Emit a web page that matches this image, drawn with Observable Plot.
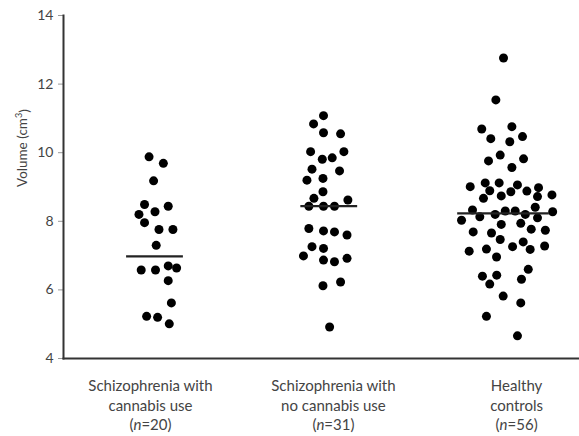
<!DOCTYPE html>
<html>
<head>
<meta charset="utf-8">
<script src="https://cdn.jsdelivr.net/npm/d3@7"></script>
<script src="https://cdn.jsdelivr.net/npm/@observablehq/plot@0.6"></script>
<style>
  html, body { margin: 0; padding: 0; background: #fff; }
  #chart svg { display: block; }
</style>
</head>
<body>
<div id="chart"></div>
<script>
// ---- Data ----
const groupLine1 = ["Schizophrenia with", "Schizophrenia with", "Healthy"];
const groupLine2 = ["cannabis use", "no cannabis use", "controls"];
const groupN = [20, 31, 56];
const groupMeans = [6.98, 8.44, 8.23];

// Schizophrenia with cannabis use (n=20)
const volCannabis = [9.88, 9.69, 9.18, 8.49, 8.44, 8.20, 8.28, 7.96, 7.76, 7.76,
  7.30, 6.58, 6.58, 6.70, 6.64, 6.27, 5.62, 5.23, 5.20, 5.01];
const jitCannabis = [-0.034, 0.048, -0.008, -0.060, 0.076, -0.092, 0.000, -0.060, 0.023, 0.103,
  0.007, -0.079, 0.003, 0.076, 0.124, 0.076, 0.094, -0.048, 0.015, 0.082];

// Schizophrenia with no cannabis use (n=31)
const volNoCannabis = [11.08, 10.84, 10.58, 10.55, 10.03, 9.81, 9.85, 10.03, 9.52, 9.47,
  9.20, 9.25, 8.86, 8.67, 8.62, 8.44, 8.44, 8.44, 7.79, 7.72,
  7.69, 7.60, 7.26, 7.21, 6.99, 6.87, 6.82, 6.92, 6.12, 6.23, 4.92];
const jitNoCannabis = [-0.033, -0.090, -0.033, 0.065, -0.107, -0.040, 0.017, 0.084, -0.099, 0.059,
  -0.128, -0.036, -0.036, -0.088, 0.107, -0.117, -0.033, 0.030, -0.117, -0.033,
  0.030, 0.102, -0.099, -0.033, -0.148, -0.033, 0.030, 0.102, -0.036, 0.065, 0.002];

// Healthy controls (n=56)
const volControls = [12.76, 11.54, 10.69, 10.76, 10.41, 10.32, 10.47, 9.93, 9.76, 9.82,
  9.57, 9.01, 9.12, 9.12, 9.06, 8.89, 8.86, 8.88, 8.98, 8.67,
  8.74, 8.72, 8.77, 8.41, 8.33, 8.28, 8.30, 8.30, 8.20, 8.20,
  8.03, 8.13, 8.10, 7.91, 7.94, 7.69, 7.66, 7.77, 7.74, 7.47,
  7.40, 7.13, 7.19, 7.26, 7.18, 7.28, 6.96, 6.60, 6.40, 6.43,
  6.31, 6.17, 5.82, 5.62, 5.23, 4.66];
const jitControls = [0.000, -0.044, -0.125, 0.048, -0.073, 0.036, 0.109, -0.019, -0.086, 0.115,
  0.048, -0.191, -0.105, -0.025, 0.080, -0.079, 0.042, 0.134, 0.201, -0.115,
  -0.013, 0.195, 0.278, 0.182, -0.178, 0.282, 0.010, 0.067, -0.048, 0.125,
  -0.241, -0.136, 0.195, -0.013, 0.099, -0.174, -0.069, 0.159, 0.240, -0.019,
  0.113, -0.197, -0.098, 0.052, 0.153, 0.236, -0.040, 0.142, -0.121, -0.039,
  0.103, -0.079, -0.002, 0.099, -0.098, 0.080];

const yTicks = [4, 6, 8, 10, 12, 14];

// ---- Build tables ----
const series = [
  [volCannabis, jitCannabis],
  [volNoCannabis, jitNoCannabis],
  [volControls, jitControls]
];
const points = [];
series.forEach(([vals, jits], g) => {
  vals.forEach((v, i) => points.push({group: g, x: g + 0.5 + jits[i], volume: v}));
});
const meanHalf = [0.163, 0.163, 0.263];
const means = groupMeans.map((m, g) => ({x1: g + 0.5 - meanHalf[g], x2: g + 0.5 + meanHalf[g], mean: m}));
const labelX = [0.474, 1.524, 2.575];
const labels = groupN.map((n, g) => ({x: labelX[g], l1: groupLine1[g], l2: groupLine2[g], l3: `(n=${n})`}));

const FONT = "Lato, 'Open Sans', sans-serif";
const TXT = "#444";

const chart = Plot.plot({
  width: 579,
  height: 436,
  marginLeft: 63,
  marginRight: 0,
  marginTop: 15,
  marginBottom: 78,
  style: {fontFamily: FONT, fontSize: "13px", color: TXT, background: "#fff", overflow: "visible"},
  x: {type: "linear", domain: [-0.025, 2.936], axis: null},
  y: {domain: [4, 14], ticks: yTicks, tickFormat: d => String(d), tickSize: 5, tickPadding: 5, label: null},
  marks: [
    Plot.axisY({ticks: yTicks, tickSize: 5, tickPadding: 5, stroke: "#999", fontSize: 14, label: null, tickFormat: d => String(d)}),
    Plot.dot(points, {x: "x", y: "volume", r: 4.5, fill: "#000", stroke: "none"}),
    Plot.ruleY(means, {x1: "x1", x2: "x2", y: "mean", stroke: "#222", strokeWidth: 2.2}),
    Plot.frame({anchor: "left", stroke: "#333", strokeWidth: 2}),
    Plot.frame({anchor: "bottom", stroke: "#333", strokeWidth: 2}),
    Plot.text(labels, {x: "x", text: "l1", frameAnchor: "bottom", dy: 32, fill: TXT, fontSize: 15}),
    Plot.text(labels, {x: "x", text: "l2", frameAnchor: "bottom", dy: 52, fill: TXT, fontSize: 15}),
    Plot.text(labels, {x: "x", text: "l3", frameAnchor: "bottom", dy: 71, fill: TXT, fontSize: 15}),
    Plot.text(["Volume (cm3)"], {frameAnchor: "left", dx: -41, rotate: -90, fill: TXT, fontSize: 13.5})
  ]
});

// Rich text: italic n and superscript 3
const svg = d3.select(chart);
svg.selectAll("text").each(function() {
  const t = d3.select(this);
  const txt = t.text();
  let m = /^\(n=(\d+)\)$/.exec(txt);
  if (m) {
    t.text(null);
    t.append("tspan").text("(");
    t.append("tspan").attr("font-style", "italic").text("n");
    t.append("tspan").text("=" + m[1] + ")");
  } else if (txt === "Volume (cm3)") {
    t.text(null);
    t.append("tspan").text("Volume (cm");
    t.append("tspan").attr("font-size", "9").attr("dy", "-0.5em").text("3");
    t.append("tspan").attr("dy", "0.5em").text(")");
  }
});

document.getElementById("chart").appendChild(chart);
</script>
</body>
</html>
